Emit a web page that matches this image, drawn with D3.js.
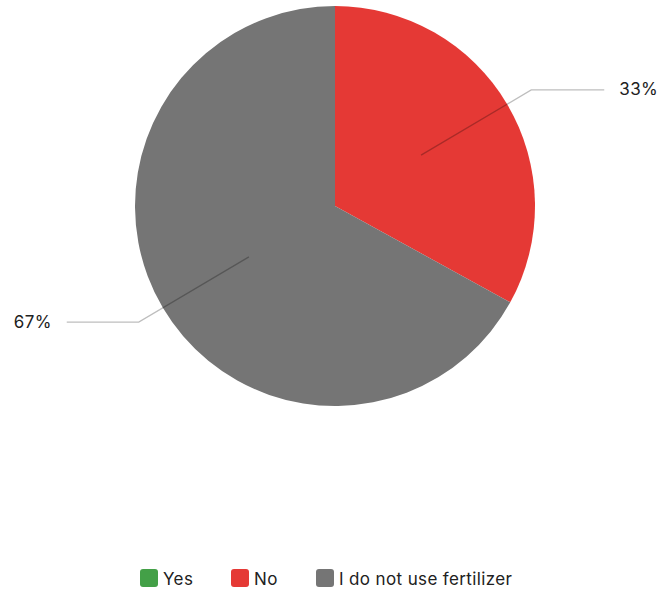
<!DOCTYPE html>
<html><head><meta charset="utf-8">
<script src="https://cdn.jsdelivr.net/npm/d3@7"></script>
<style>body{margin:0;background:#fff;} text{font-family:Inter,"Noto Sans",sans-serif;}</style>
</head><body>
<svg id="c" width="661" height="592"></svg>
<script>
const categories = ["Yes", "No", "I do not use fertilizer"];
const values = [0, 33, 67];
const colors = ["#43a047", "#e53935", "#757575"];

const svg = d3.select("#c");
const cx = 335, cy = 206, r = 200;
const g = svg.append("g").attr("transform", `translate(${cx},${cy})`);
const pie = d3.pie().sort(null).value(d => d.v);
const data = pie(categories.map((c, i) => ({c, v: values[i], col: colors[i]})));
const arc = d3.arc().innerRadius(0).outerRadius(r);
g.selectAll("path").data(data).join("path")
  .attr("d", arc).attr("fill", d => d.data.col);

const total = d3.sum(values);
data.filter(d => d.value > 0).forEach(d => {
  const a = (d.startAngle + d.endAngle) / 2;
  const p1 = [Math.sin(a) * r * 0.5, -Math.cos(a) * r * 0.5];
  const p2 = [Math.sin(a) * r * 1.14, -Math.cos(a) * r * 1.14];
  const right = Math.sin(a) > 0;
  const p3 = [p2[0] + (right ? 73 : -72), p2[1]];
  g.append("polyline").attr("points", [p1, p2, p3].map(p => p.join(",")).join(" "))
    .attr("fill", "none").attr("stroke", "#000").attr("stroke-opacity", 0.26).attr("stroke-width", 1.3);
  g.append("text").attr("x", p3[0] + (right ? 15 : -15)).attr("y", p3[1] + 5.5)
    .attr("text-anchor", right ? "start" : "end")
    .attr("font-size", 17).attr("letter-spacing", 0.4).attr("fill", "#212121")
    .text(Math.round(d.value / total * 100) + "%");
});

const legendX = [140, 231, 316];
const lg = svg.append("g");
categories.forEach((c, i) => {
  lg.append("rect").attr("x", legendX[i]).attr("y", 569).attr("width", 18).attr("height", 18)
    .attr("rx", 3).attr("fill", colors[i]);
  lg.append("text").attr("x", legendX[i] + 23).attr("y", 584.5).attr("font-size", 17)
    .attr("letter-spacing", 0.37).attr("fill", "#212121").text(c);
});
</script>
</body></html>
